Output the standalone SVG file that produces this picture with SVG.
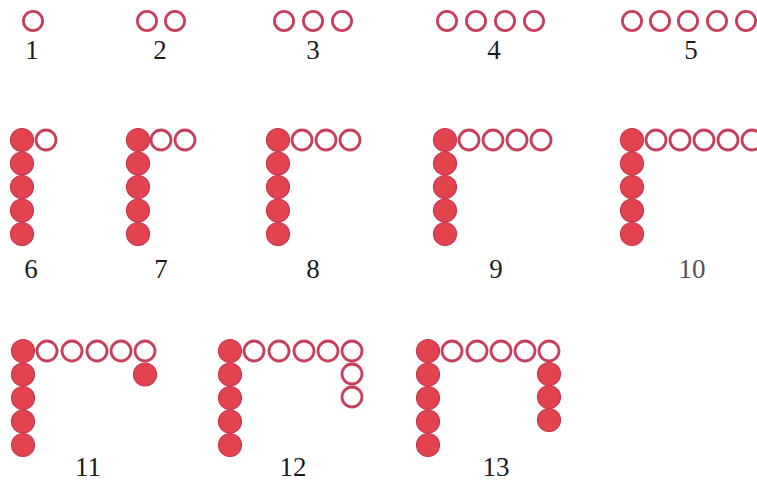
<svg xmlns="http://www.w3.org/2000/svg" width="757" height="489" viewBox="0 0 757 489">
<style>
.o{fill:#fff;stroke:#c83f5b;stroke-width:2.8}
.s{fill:#fff;stroke:#c83f5b;stroke-width:2.8}
.f{fill:#e2434f;stroke:#c7384f;stroke-width:1.2}
.l{font-family:"Liberation Serif","Times New Roman",serif;font-size:27px;text-anchor:middle;fill:#1c1c1c}
.g{fill:#555}
</style>
<rect width="757" height="489" fill="#fff"/>
<g id="fig1"><circle class="s" cx="33" cy="21" r="9.6"/><text class="l" x="32" y="59">1</text></g>
<g id="fig2"><circle class="s" cx="147" cy="21" r="9.6"/><circle class="s" cx="175" cy="21" r="9.6"/><text class="l" x="160" y="59">2</text></g>
<g id="fig3"><circle class="s" cx="284" cy="21" r="9.6"/><circle class="s" cx="313" cy="21" r="9.6"/><circle class="s" cx="342" cy="21" r="9.6"/><text class="l" x="313" y="59">3</text></g>
<g id="fig4"><circle class="s" cx="447" cy="21" r="9.6"/><circle class="s" cx="476" cy="21" r="9.6"/><circle class="s" cx="505" cy="21" r="9.6"/><circle class="s" cx="534" cy="21" r="9.6"/><text class="l" x="494" y="59">4</text></g>
<g id="fig5"><circle class="s" cx="632" cy="21" r="9.6"/><circle class="s" cx="660" cy="21" r="9.6"/><circle class="s" cx="688" cy="21" r="9.6"/><circle class="s" cx="717" cy="21" r="9.6"/><circle class="s" cx="746" cy="21" r="9.6"/><text class="l" x="691" y="59">5</text></g>

<g id="fig6">
<circle class="f" cx="22" cy="140" r="11.5"/><circle class="f" cx="22" cy="163.5" r="11.5"/><circle class="f" cx="22" cy="187" r="11.5"/><circle class="f" cx="22" cy="210.5" r="11.5"/><circle class="f" cx="22" cy="234" r="11.5"/>
<circle class="o" cx="46" cy="140" r="10"/>
<text class="l" x="31" y="278">6</text></g>
<g id="fig7">
<circle class="f" cx="138" cy="140" r="11.5"/><circle class="f" cx="138" cy="163.5" r="11.5"/><circle class="f" cx="138" cy="187" r="11.5"/><circle class="f" cx="138" cy="210.5" r="11.5"/><circle class="f" cx="138" cy="234" r="11.5"/>
<circle class="o" cx="161" cy="140" r="10"/><circle class="o" cx="185" cy="140" r="10"/>
<text class="l" x="161" y="278">7</text></g>
<g id="fig8">
<circle class="f" cx="278" cy="140" r="11.5"/><circle class="f" cx="278" cy="163.5" r="11.5"/><circle class="f" cx="278" cy="187" r="11.5"/><circle class="f" cx="278" cy="210.5" r="11.5"/><circle class="f" cx="278" cy="234" r="11.5"/>
<circle class="o" cx="302" cy="140" r="10"/><circle class="o" cx="326" cy="140" r="10"/><circle class="o" cx="350" cy="140" r="10"/>
<text class="l" x="313" y="278">8</text></g>
<g id="fig9">
<circle class="f" cx="445" cy="140" r="11.5"/><circle class="f" cx="445" cy="163.5" r="11.5"/><circle class="f" cx="445" cy="187" r="11.5"/><circle class="f" cx="445" cy="210.5" r="11.5"/><circle class="f" cx="445" cy="234" r="11.5"/>
<circle class="o" cx="469" cy="140" r="10"/><circle class="o" cx="493" cy="140" r="10"/><circle class="o" cx="517" cy="140" r="10"/><circle class="o" cx="541" cy="140" r="10"/>
<text class="l" x="496" y="278">9</text></g>
<g id="fig10">
<circle class="f" cx="632" cy="140" r="11.5"/><circle class="f" cx="632" cy="163.5" r="11.5"/><circle class="f" cx="632" cy="187" r="11.5"/><circle class="f" cx="632" cy="210.5" r="11.5"/><circle class="f" cx="632" cy="234" r="11.5"/>
<circle class="o" cx="656" cy="140" r="10"/><circle class="o" cx="680" cy="140" r="10"/><circle class="o" cx="704" cy="140" r="10"/><circle class="o" cx="728" cy="140" r="10"/><circle class="o" cx="752" cy="140" r="10"/>
<text class="l g" x="692" y="278">10</text></g>

<g id="fig11">
<circle class="f" cx="23" cy="351" r="11.5"/><circle class="f" cx="23" cy="374.5" r="11.5"/><circle class="f" cx="23" cy="398" r="11.5"/><circle class="f" cx="23" cy="421.5" r="11.5"/><circle class="f" cx="23" cy="445" r="11.5"/>
<circle class="o" cx="47" cy="351" r="10"/><circle class="o" cx="72" cy="351" r="10"/><circle class="o" cx="97" cy="351" r="10"/><circle class="o" cx="121" cy="351" r="10"/><circle class="o" cx="145" cy="351" r="10"/>
<circle class="f" cx="145" cy="374.5" r="11.5"/>
<text class="l" x="88" y="476">11</text></g>
<g id="fig12">
<circle class="f" cx="230" cy="351" r="11.5"/><circle class="f" cx="230" cy="374.5" r="11.5"/><circle class="f" cx="230" cy="398" r="11.5"/><circle class="f" cx="230" cy="421.5" r="11.5"/><circle class="f" cx="230" cy="445" r="11.5"/>
<circle class="o" cx="254" cy="351" r="10"/><circle class="o" cx="279" cy="351" r="10"/><circle class="o" cx="304" cy="351" r="10"/><circle class="o" cx="328" cy="351" r="10"/><circle class="o" cx="352" cy="351" r="10"/>
<circle class="o" cx="352" cy="374" r="10"/><circle class="o" cx="352" cy="397" r="10"/>
<text class="l" x="293" y="476">12</text></g>
<g id="fig13">
<circle class="f" cx="428" cy="351" r="11.5"/><circle class="f" cx="428" cy="374.5" r="11.5"/><circle class="f" cx="428" cy="398" r="11.5"/><circle class="f" cx="428" cy="421.5" r="11.5"/><circle class="f" cx="428" cy="445" r="11.5"/>
<circle class="o" cx="452" cy="351" r="10"/><circle class="o" cx="477" cy="351" r="10"/><circle class="o" cx="501" cy="351" r="10"/><circle class="o" cx="525" cy="351" r="10"/><circle class="o" cx="549" cy="351" r="10"/>
<circle class="f" cx="549" cy="374" r="11.5"/><circle class="f" cx="549" cy="397" r="11.5"/><circle class="f" cx="549" cy="420" r="11.5"/>
<text class="l" x="496" y="476">13</text></g>
</svg>
